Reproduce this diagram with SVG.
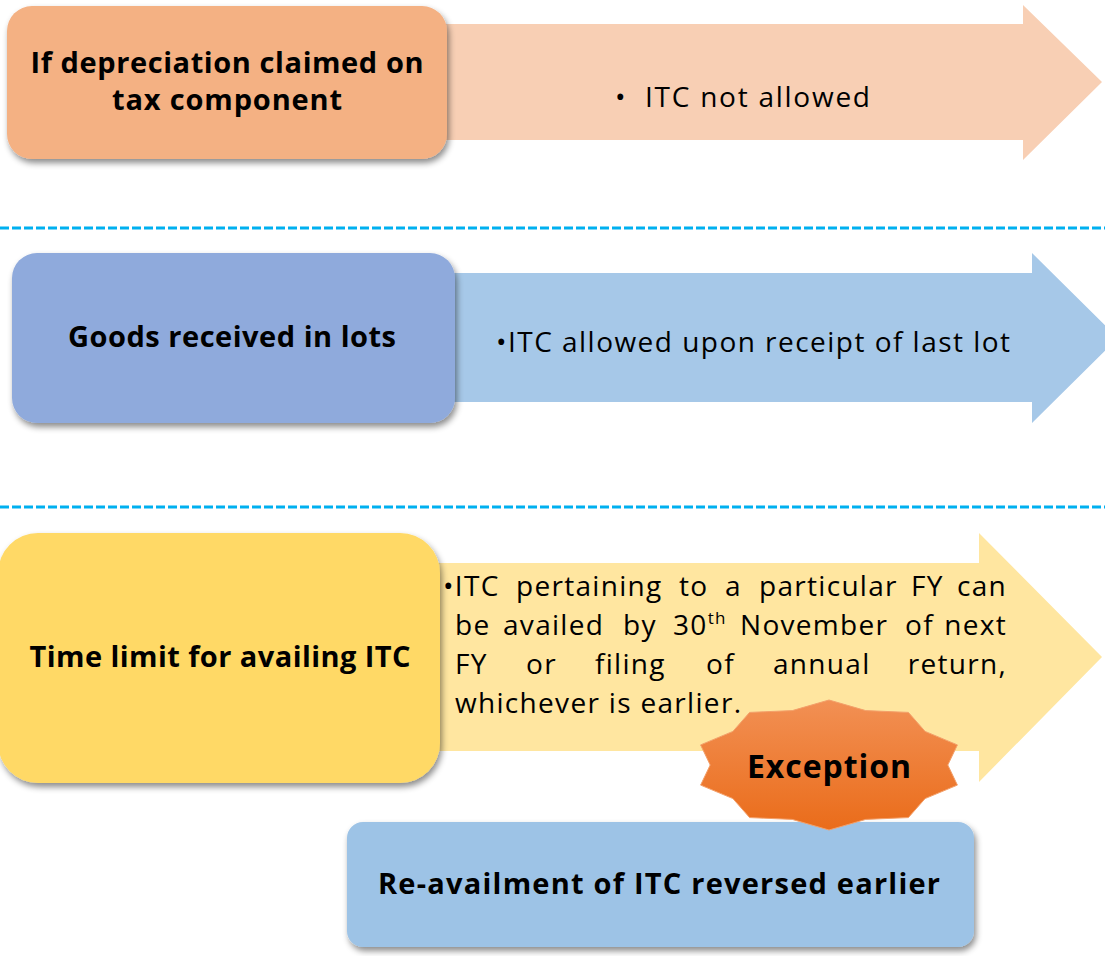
<svg xmlns="http://www.w3.org/2000/svg" width="1105" height="956" viewBox="0 0 1105 956">
<style>
.head{font-family:"Open Sans","Liberation Sans",sans-serif;font-weight:700;font-size:29px;fill:#000;text-anchor:middle}
.body{font-family:"Open Sans","Liberation Sans",sans-serif;font-weight:400;font-size:28px;fill:#000}
.just{letter-spacing:1.3px}
.exc{font-family:"Open Sans","Liberation Sans",sans-serif;font-weight:700;font-size:32px;fill:#000;text-anchor:middle}
.dash{stroke:#00B0F0;stroke-width:3;stroke-dasharray:9 3;fill:none}
</style>
<defs>
<filter id="sh" x="-10%" y="-10%" width="125%" height="140%">
<feDropShadow dx="2" dy="4" stdDeviation="3" flood-color="#000" flood-opacity="0.45"/>
</filter>
<linearGradient id="star" x1="0" y1="0" x2="0" y2="1">
<stop offset="0" stop-color="#F29054"/>
<stop offset="1" stop-color="#EA6C1A"/>
</linearGradient>
</defs>
<rect width="1105" height="956" fill="#fff"/>
<g id="separators">
<line class="dash" x1="0" y1="228" x2="1105" y2="228"/>
<line class="dash" x1="0" y1="507" x2="1105" y2="507"/>
</g>
<g id="arrows">
<polygon points="440,24 1023,24 1023,5 1102,82 1023,160 1023,140 440,140" fill="#F8CFB4"/>
<polygon points="450,273 1032,273 1032,253 1118,338 1032,423 1032,402 450,402" fill="#A6C8E8"/>
<polygon points="435,563 979,563 979,533 1102,657 979,782 979,751 435,751" fill="#FFE6A0"/>
</g>
<g id="node1">
<rect x="7" y="6" width="440" height="153" rx="25" fill="#F4B183" filter="url(#sh)"/>
<text class="head" x="227" y="73" textLength="393" lengthAdjust="spacing">If depreciation claimed on</text>
<text class="head" x="227" y="110" textLength="230" lengthAdjust="spacing">tax component</text>
</g>
<g id="result1">
<text class="body" x="615" y="107">•</text>
<text class="body" x="645" y="107" textLength="225" lengthAdjust="spacing">ITC not allowed</text>
</g>
<g id="node2">
<rect x="12" y="253" width="443" height="170" rx="25" fill="#8FAADC" filter="url(#sh)"/>
<text class="head" x="232" y="347" textLength="328" lengthAdjust="spacing">Goods received in lots</text>
</g>
<g id="result2">
<text class="body" x="496" y="352" textLength="514" lengthAdjust="spacing">•ITC allowed upon receipt of last lot</text>
</g>
<g id="node3">
<rect x="-2" y="533" width="442" height="250" rx="40" fill="#FFD966" filter="url(#sh)"/>
<text class="head" x="220" y="667" textLength="381" lengthAdjust="spacing">Time limit for availing ITC</text>
</g>
<g id="result3">
<text class="body just" y="596"><tspan x="443">•ITC</tspan><tspan x="516">pertaining</tspan><tspan x="679">to</tspan><tspan x="725">a</tspan><tspan x="759">particular</tspan><tspan x="911">FY</tspan><tspan x="1007" text-anchor="end">can</tspan></text>
<text class="body just" y="635"><tspan x="455">be</tspan><tspan x="503">availed</tspan><tspan x="623">by</tspan><tspan x="673">30<tspan font-size="17" dy="-11">th</tspan></tspan><tspan x="740" dy="11">November</tspan><tspan x="905">of</tspan><tspan x="1007" text-anchor="end">next</tspan></text>
<text class="body just" y="674"><tspan x="455">FY</tspan><tspan x="526">or</tspan><tspan x="595">filing</tspan><tspan x="706">of</tspan><tspan x="773">annual</tspan><tspan x="1007" text-anchor="end">return,</tspan></text>
<text class="body" x="455" y="713" textLength="286" lengthAdjust="spacing">whichever is earlier.</text>
</g>
<g id="node4">
<rect x="347" y="822" width="627" height="125" rx="16" fill="#9DC3E6" filter="url(#sh)"/>
<text class="head" x="659" y="894" textLength="562" lengthAdjust="spacing">Re-availment of ITC reversed earlier</text>
</g>
<g id="exception">
<polygon points="829,700 865.7,710.6 908.4,712.4 925.1,731.4 957.4,744.9 947.8,765 957.4,785.1 925.1,798.6 908.4,817.6 865.7,819.4 829,830 792.3,819.4 749.6,817.6 732.9,798.6 700.6,785.1 710.2,765 700.6,744.9 732.9,731.4 749.6,712.4 792.3,710.6" fill="url(#star)" stroke="#F3A06A" stroke-width="1"/>
<text class="exc" x="829" y="778" textLength="164" lengthAdjust="spacing">Exception</text>
</g>
</svg>
